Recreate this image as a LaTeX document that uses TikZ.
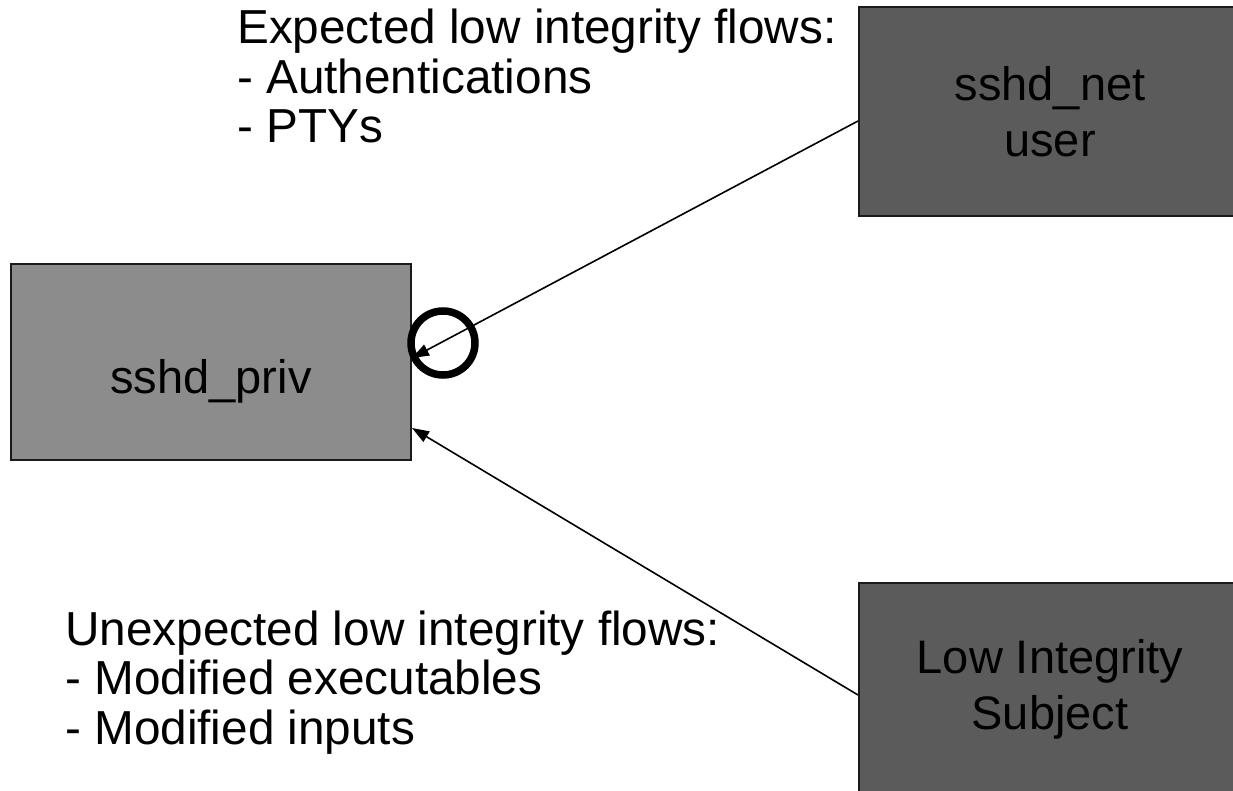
\documentclass[tikz,border=0pt]{standalone}
\usepackage{fontspec}
\setmainfont{Liberation Sans}
\usetikzlibrary{arrows.meta}
\definecolor{boxdark}{HTML}{5B5B5B}
\definecolor{boxmid}{HTML}{8C8C8C}
\definecolor{edge}{HTML}{1A1A1A}
\tikzset{
  subject/.style={draw=edge, line width=2pt, rectangle, inner sep=0pt,
    align=center, font=\fontsize{47}{56}\selectfont},
  flowlist/.style={anchor=base west, inner sep=0pt, align=left,
    font=\fontsize{47.7}{49.5}\selectfont},
  flow/.style={-{Triangle[length=17pt,width=12pt]}, line width=1.6pt, black},
  marker/.style={circle, draw=black, line width=7.5pt, minimum size=64pt, inner sep=0pt}
}
\begin{document}
\begin{tikzpicture}[x=1pt,y=-1pt]
  \useasboundingbox (0,0) rectangle (1233,791);
  \clip (0,0) rectangle (1233,791);
  \fill[white] (0,0) rectangle (1233,791);

  % subjects
  \node[subject, fill=boxmid, minimum width=400pt, minimum height=196pt] (priv) at (211,362) {\raisebox{-31pt}[0pt][0pt]{sshd\_priv}};
  \node[subject, fill=boxdark, minimum width=382pt, minimum height=209pt] (net) at (1050,111.5) {sshd\_net\\user};
  \node[subject, fill=boxdark, minimum width=382pt, minimum height=212pt] (low) at (1050,689) {Low Integrity\\Subject};

  % flow descriptions (anchored at the baseline of the last line)
  \node[flowlist] (exp) at (237,143) {Expected low integrity flows:\\- Authentications\\- PTYs};
  \node[flowlist] (unexp) at (65,744) {Unexpected low integrity flows:\\- Modified executables\\- Modified inputs};

  % flows into sshd_priv
  \draw[flow] ([yshift=-9.5pt]net.west) -- ([yshift=4pt]priv.east);
  \draw[flow] ([yshift=-6pt]low.west) -- ([yshift=-66pt]priv.east);

  % highlighted entry point
  \node[marker] (ring) at (443,343) {};
\end{tikzpicture}
\end{document}
